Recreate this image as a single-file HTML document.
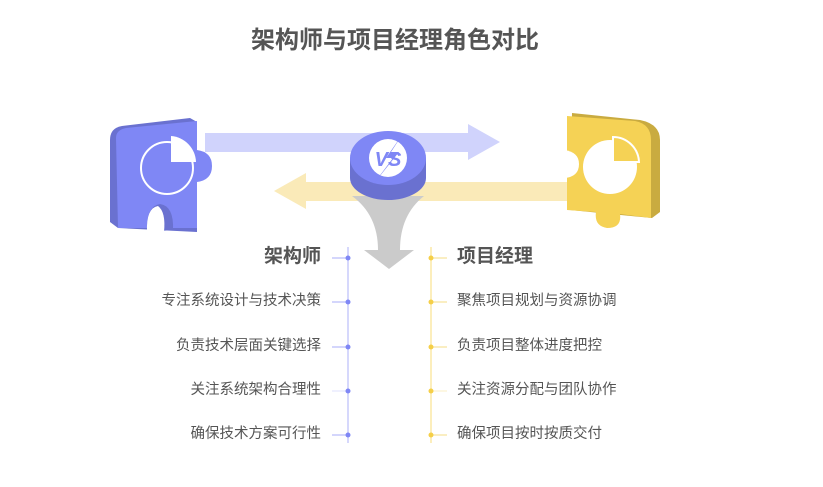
<!DOCTYPE html>
<html><head><meta charset="utf-8"><style>
body{margin:0;background:#fff;width:823px;height:487px;overflow:hidden}
svg{display:block}
text{font-family:"Liberation Sans","Noto Sans CJK SC",sans-serif}
</style></head><body>
<svg width="823" height="487" viewBox="0 0 823 487">
<text x="395" y="48" text-anchor="middle" font-size="24" font-weight="bold" fill="#555">架构师与项目经理角色对比</text>
<rect x="205" y="133" width="270" height="19" fill="#d0d3fc"/>
<polygon points="468,124 500,142 468,160" fill="#d0d3fc"/>
<rect x="300" y="182" width="270" height="19" fill="#faeab8"/>
<polygon points="306,173 274,191 306,209" fill="#faeab8"/>
<path d="M352,196 L424,196 Q400,215 400,250 L414,250 L389,269 L364,250 L378,250 Q378,215 352,196Z" fill="#cbcbcb"/>
<!-- left puzzle -->
<path d="M110,140 Q110,128 122,126 L190,118 L197,122 L197,232 L118,228 L110,222Z" fill="#6a71d0"/>
<path d="M116,138 Q116,130 126,128 L197,121 L197,150 Q212,152 212,166 Q212,180 197,182 L197,228 L118,228Z" fill="#7f87f5"/>
<path d="M147,232 Q146,206 160,204 Q174,206 173,230 Z" fill="#6a71d0"/>
<path d="M147,232 Q146,208 158,206 Q166,212 164,232 Z" fill="#fff"/>
<circle cx="167" cy="168" r="26" fill="none" stroke="#fff" stroke-width="2"/>
<path d="M171,136 A27,27 0 0 1 196,162 L171,162Z" fill="#fff"/>
<!-- right puzzle -->
<path d="M572,113 L640,120 Q660,124 660,140 L660,212 L652,218 L570,210Z" fill="#c9ab40"/>
<path d="M567,116 L635,121 Q651,124 651,140 L651,218 L620,214 Q622,228 607,228 Q594,226 596,212 L567,210Z" fill="#f5d255"/>
<path d="M564,150 Q579,152 579,164 Q579,177 564,178Z" fill="#fff"/>
<circle cx="610" cy="167" r="27" fill="#fff"/>
<path d="M613,137 A26,26 0 0 1 639,162 L613,162Z" fill="#f5d255" stroke="#fff" stroke-width="2"/>
<!-- vs cylinder -->
<path d="M350,158 L350,178 A38,22 0 0 0 426,178 L426,158Z" fill="#6a71d0"/>
<ellipse cx="388" cy="158" rx="38" ry="27" fill="#7f87f5"/>
<circle cx="388" cy="158" r="19" fill="#fff"/>
<text x="388" y="166" text-anchor="middle" font-size="20" font-weight="bold" font-style="italic" fill="#7f87f5">VS</text>
<polygon points="404,132 386,158 393,158 372,186 399,152 391,152" fill="#7f87f5"/>
<!-- timelines -->
<line x1="348" y1="247" x2="348" y2="443" stroke="#c9ccfb" stroke-width="1.5"/>
<line x1="431" y1="247" x2="431" y2="443" stroke="#fbe9a6" stroke-width="1.5"/>
<g stroke="#a8adf8" stroke-width="1">
<line x1="332" y1="258" x2="348" y2="258"/><line x1="332" y1="302" x2="348" y2="302"/><line x1="332" y1="347" x2="348" y2="347"/><line x1="332" y1="391" x2="348" y2="391" stroke="#dfe1fd"/><line x1="332" y1="435" x2="348" y2="435"/>
</g>
<g stroke="#f6de86" stroke-width="1">
<line x1="431" y1="258" x2="447" y2="258"/><line x1="431" y1="302" x2="447" y2="302"/><line x1="431" y1="347" x2="447" y2="347"/><line x1="431" y1="391" x2="447" y2="391" stroke="#fbefc4"/><line x1="431" y1="435" x2="447" y2="435"/>
</g>
<g fill="#7f87f5"><circle cx="348" cy="258" r="2.5"/><circle cx="348" cy="302" r="2.5"/><circle cx="348" cy="347" r="2.5"/><circle cx="348" cy="391" r="2.5"/><circle cx="348" cy="435" r="2.5"/></g>
<g fill="#f5cf48"><circle cx="431" cy="258" r="2.5"/><circle cx="431" cy="302" r="2.5"/><circle cx="431" cy="347" r="2.5"/><circle cx="431" cy="391" r="2.5"/><circle cx="431" cy="435" r="2.5"/></g>
<g fill="#555" font-size="14.5">
<text x="321" y="262" text-anchor="end" font-size="19" font-weight="bold">架构师</text>
<text x="321" y="305" text-anchor="end">专注系统设计与技术决策</text>
<text x="321" y="350" text-anchor="end">负责技术层面关键选择</text>
<text x="321" y="394" text-anchor="end">关注系统架构合理性</text>
<text x="321" y="438" text-anchor="end">确保技术方案可行性</text>
<text x="457" y="262" font-size="19" font-weight="bold">项目经理</text>
<text x="457" y="305">聚焦项目规划与资源协调</text>
<text x="457" y="350">负责项目整体进度把控</text>
<text x="457" y="394">关注资源分配与团队协作</text>
<text x="457" y="438">确保项目按时按质交付</text>
</g>
</svg>
</body></html>
